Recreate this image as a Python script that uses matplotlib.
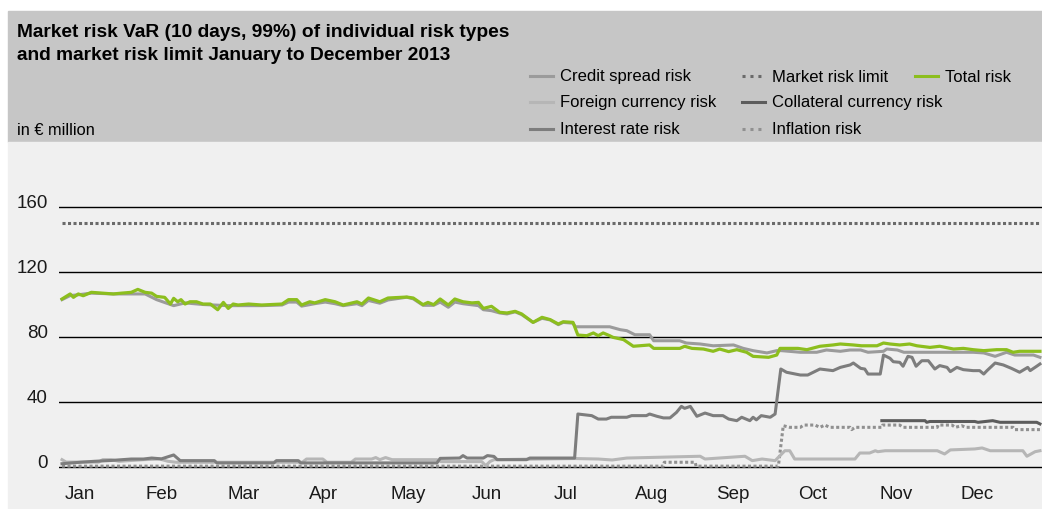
import matplotlib.pyplot as plt
import numpy as np
from matplotlib.lines import Line2D
from matplotlib.patches import Rectangle

plt.rcParams['font.family'] = ['Liberation Sans', 'DejaVu Sans']

# x positions are in months (0 = start of January, 12 = end of December)
months = ['Jan', 'Feb', 'Mar', 'Apr', 'May', 'Jun',
          'Jul', 'Aug', 'Sep', 'Oct', 'Nov', 'Dec']
y_ticks = [0, 40, 80, 120, 160]

total_t = [0.00, 0.10, 0.14, 0.20, 0.26, 0.36, 0.63, 0.73, 0.85, 0.93, 1.02, 1.10,
           1.16, 1.26, 1.33, 1.37, 1.42, 1.46, 1.51, 1.57, 1.65, 1.73, 1.82, 1.91,
           1.98, 2.04, 2.10, 2.16, 2.29, 2.45, 2.70, 2.78, 2.88, 2.94, 3.04, 3.10,
           3.23, 3.35, 3.45, 3.62, 3.68, 3.76, 3.90, 4.00, 4.23, 4.31, 4.43, 4.49,
           4.56, 4.64, 4.74, 4.82, 4.92, 5.03, 5.11, 5.17, 5.27, 5.37, 5.46, 5.56,
           5.64, 5.78, 5.89, 5.99, 6.09, 6.15, 6.27, 6.33, 6.44, 6.52, 6.58, 6.64,
           6.72, 6.76, 6.89, 7.01, 7.21, 7.26, 7.58, 7.64, 7.73, 7.87, 7.99, 8.07,
           8.18, 8.28, 8.40, 8.48, 8.67, 8.77, 8.81, 9.03, 9.14, 9.30, 9.46, 9.55,
           9.71, 9.81, 10.00, 10.08, 10.16, 10.28, 10.40, 10.49, 10.65, 10.77, 10.94,
           11.06, 11.18, 11.31, 11.47, 11.59, 11.67, 11.75, 12.00]
total_v = [103.4, 106.5, 104.4, 106.5, 105.4, 107.5, 106.5, 107.0, 107.5, 109.3, 107.5, 107.0,
           105.0, 104.4, 100.3, 103.8, 101.7, 103.0, 100.3, 101.7, 101.7, 100.3, 100.3, 96.8,
           101.3, 97.6, 100.3, 99.7, 100.3, 99.7, 100.3, 103.0, 103.0, 99.7, 101.7, 101.0,
           103.0, 101.7, 99.7, 101.7, 100.3, 104.0, 101.7, 104.0, 104.6, 104.0, 99.9, 101.3,
           99.9, 103.4, 99.7, 103.4, 101.7, 101.0, 101.3, 97.6, 98.9, 95.2, 94.8, 95.8,
           94.2, 89.0, 92.1, 90.7, 88.0, 89.4, 89.0, 81.2, 80.8, 82.5, 80.8, 82.5,
           80.8, 79.8, 78.4, 74.3, 75.1, 73.0, 73.0, 74.3, 73.0, 72.6, 71.2, 72.6,
           71.0, 72.2, 70.6, 68.1, 67.5, 68.9, 73.0, 73.0, 72.2, 74.3, 75.1, 75.7,
           75.1, 74.6, 74.6, 76.3, 75.7, 75.1, 75.7, 74.6, 73.6, 74.3, 72.6,
           73.0, 72.2, 71.6, 72.2, 72.2, 70.6, 71.2, 71.2]

credit_t = [0.00, 0.10, 0.20, 0.36, 0.63, 0.85, 1.02, 1.16, 1.33, 1.37, 1.51, 1.73,
            2.04, 2.45, 2.70, 2.78, 2.88, 2.94, 3.10, 3.23, 3.35, 3.45, 3.62, 3.68,
            3.76, 3.90, 4.00, 4.23, 4.31, 4.43, 4.56, 4.64, 4.74, 4.82, 4.92, 5.03,
            5.11, 5.17, 5.27, 5.37, 5.46, 5.56, 5.64, 5.78, 5.89, 5.99, 6.09, 6.15,
            6.27, 6.30, 6.72, 6.85, 6.93, 7.03, 7.21, 7.26, 7.58, 7.66, 7.83, 7.99,
            8.24, 8.36, 8.48, 8.65, 8.77, 8.83, 9.06, 9.26, 9.38, 9.55, 9.67, 9.80,
            9.89, 10.08, 10.12, 10.25, 10.33, 11.18, 11.31, 11.45, 11.59, 11.69, 11.92, 12.00]
credit_v = [103.0, 105.5, 106.0, 107.0, 106.5, 106.5, 106.5, 103.0, 100.0, 99.3, 101.0, 100.0,
            99.3, 99.3, 99.7, 101.5, 101.5, 99.0, 100.5, 101.5, 100.5, 99.3, 100.5, 99.3,
            102.5, 100.8, 102.8, 104.5, 103.5, 99.5, 99.5, 101.5, 98.3, 101.5, 100.5, 99.8,
            99.3, 96.8, 96.2, 94.8, 94.2, 95.5, 93.8, 89.0, 91.5, 90.5, 87.6, 89.0,
            88.5, 86.3, 86.3, 84.5, 83.9, 81.4, 81.4, 77.7, 77.7, 76.3, 75.7, 74.6,
            75.1, 73.0, 71.6, 70.2, 71.6, 71.6, 70.6, 70.6, 72.0, 71.2, 72.0, 72.0,
            70.6, 71.2, 72.6, 72.0, 70.6, 70.6, 70.2, 68.1, 70.6, 68.9, 68.9, 67.5]

interest_t = [0.00, 0.12, 0.25, 0.40, 0.60, 0.85, 1.00, 1.10, 1.22, 1.37, 1.45, 1.87,
              1.90, 2.60, 2.63, 2.90, 2.93, 4.60, 4.64, 4.88, 4.92, 4.97, 5.17, 5.22,
              5.30, 5.34, 5.70, 5.74, 6.29, 6.33, 6.50, 6.58, 6.68, 6.74, 6.93, 6.99,
              7.17, 7.21, 7.30, 7.38, 7.46, 7.54, 7.60, 7.64, 7.71, 7.79, 7.89, 7.99,
              8.11, 8.18, 8.28, 8.34, 8.44, 8.48, 8.52, 8.58, 8.69, 8.75, 8.82, 8.89,
              9.06, 9.15, 9.30, 9.46, 9.55, 9.67, 9.71, 9.80, 9.85, 9.89, 10.04, 10.08,
              10.16, 10.20, 10.28, 10.32, 10.38, 10.43, 10.48, 10.55, 10.63, 10.71, 10.77,
              10.86, 10.90, 10.98, 11.06, 11.18, 11.26, 11.31, 11.35, 11.45, 11.55, 11.65,
              11.75, 11.85, 11.88, 11.96, 12.00]
interest_v = [2.0, 2.5, 3.0, 3.5, 4.0, 4.9, 4.9, 5.5, 5.0, 7.4, 3.9, 3.9,
              2.5, 2.5, 3.9, 3.9, 2.5, 2.5, 5.3, 5.5, 7.0, 5.5, 5.5, 7.0,
              6.5, 4.5, 4.5, 5.5, 5.5, 32.6, 31.6, 29.5, 29.5, 30.6, 30.6, 31.6,
              31.6, 32.6, 31.2, 30.2, 30.2, 33.6, 37.3, 36.1, 37.3, 31.2, 33.2, 31.6,
              31.6, 29.5, 28.5, 30.6, 28.5, 30.6, 29.0, 31.6, 30.6, 32.6, 60.3, 58.3,
              56.6, 56.6, 60.3, 59.3, 61.3, 62.8, 64.0, 60.7, 60.3, 57.2, 57.2, 68.9,
              66.9, 64.8, 64.4, 62.0, 68.1, 67.5, 62.0, 65.4, 65.4, 60.3, 62.4,
              61.3, 58.7, 61.3, 59.9, 59.3, 59.3, 57.2, 59.3, 64.0, 62.8, 60.7,
              58.3, 61.3, 59.3, 62.0, 63.4]

foreign_t = [0.00, 0.05, 0.45, 0.50, 0.60, 0.70, 1.00, 1.20, 1.30, 1.40, 2.95, 3.00,
             3.20, 3.25, 3.55, 3.60, 3.80, 3.85, 3.90, 3.97, 4.05, 4.60, 4.65, 5.15,
             5.20, 5.25, 5.30, 6.29, 6.58, 6.75, 6.93, 7.83, 7.89, 8.38, 8.47, 8.59,
             8.75, 8.87, 8.93, 8.99, 9.73, 9.79, 9.91, 9.98, 10.01, 10.10, 10.74, 10.83,
             10.90, 11.20, 11.29, 11.39, 11.79, 11.84, 11.94, 12.00]
foreign_v = [4.5, 3.0, 3.0, 4.5, 4.5, 3.5, 4.5, 4.9, 3.5, 2.9, 2.9, 4.9,
             4.9, 2.9, 2.9, 4.9, 4.9, 5.8, 4.5, 5.8, 4.5, 4.5, 3.3, 3.3,
             0.8, 3.3, 4.5, 5.2, 4.9, 4.3, 5.5, 6.6, 4.9, 6.6, 3.9, 4.9,
             3.9, 10.0, 10.0, 4.9, 4.9, 8.6, 8.6, 10.0, 9.4, 10.0, 10.0, 8.0,
             10.5, 11.1, 11.7, 10.0, 10.0, 6.6, 9.4, 10.0]

collateral_t = [10.06, 10.59, 10.61, 10.65, 11.20, 11.24, 11.42, 11.51, 11.96, 12.00]
collateral_v = [28.5, 28.5, 27.5, 28.0, 28.0, 27.5, 28.5, 27.5, 27.5, 26.5]

inflation_t = [0.00, 6.52, 6.54, 6.56, 7.38, 7.39, 7.77, 7.78, 8.79, 8.85, 8.93, 9.06,
               9.10, 9.24, 9.30, 9.36, 9.42, 9.67, 9.69, 9.73, 10.06, 10.07, 10.28, 10.32,
               10.74, 10.75, 10.92, 10.96, 11.04, 11.09, 11.67, 11.69, 12.00]
inflation_v = [0.5, 0.5, 1.2, 0.5, 0.5, 2.9, 2.9, 0.5, 0.5, 25.4, 24.4, 24.4,
               25.8, 25.8, 24.4, 25.8, 24.4, 24.4, 23.0, 24.4, 24.4, 25.8, 25.8, 24.4,
               24.4, 25.8, 25.8, 24.4, 25.4, 24.4, 24.4, 23.0, 23.0]

limit_t = [0.00, 12.00]
limit_v = [150, 150]

c_total = '#8cbe1e'
c_credit = '#9b9b9b'
c_interest = '#7d7d7d'
c_foreign = '#b6b6b6'
c_collateral = '#5c5c5c'
c_limit = '#6a6a6a'
c_inflation = '#909090'
dots = (0, (1, 0.8))
legend_dots = (0, (1, 1.6))

W, H = 1042, 510
fig = plt.figure(figsize=(W / 100, H / 100), dpi=100, facecolor='white')


def fx(px):
    return px / W


def fy(py):
    return 1 - py / H


# header and plot background panels
fig.add_artist(Rectangle((fx(8), fy(143)), fx(W - 8), 131 / H,
                         transform=fig.transFigure, color='#c6c6c6', zorder=0))
fig.add_artist(Rectangle((fx(8), 0), fx(W - 8), fy(143),
                         transform=fig.transFigure, color='#f0f0f0', zorder=0))

fig.text(fx(17), fy(37), 'Market risk VaR (10 days, 99%) of individual risk types',
         fontsize=13.8, fontweight='bold', va='baseline')
fig.text(fx(17), fy(60), 'and market risk limit January to December 2013',
         fontsize=13.8, fontweight='bold', va='baseline')
fig.text(fx(17), fy(135), 'in € million', fontsize=11.8, va='baseline')

# legend drawn by hand (3 columns, filled top to bottom)
legend_items = [
    (530, 560, 77, 'Credit spread risk', c_credit, '-'),
    (530, 560, 103, 'Foreign currency risk', c_foreign, '-'),
    (530, 560, 130, 'Interest rate risk', c_interest, '-'),
    (742, 772, 77, 'Market risk limit', c_limit, legend_dots),
    (742, 772, 103, 'Collateral currency risk', c_collateral, '-'),
    (742, 772, 130, 'Inflation risk', c_inflation, legend_dots),
    (915, 945, 77, 'Total risk', c_total, '-'),
]
for x0, xt, yc, label, col, ls in legend_items:
    fig.add_artist(Line2D([fx(x0), fx(x0 + 23)], [fy(yc), fy(yc)],
                          transform=fig.transFigure, color=col, lw=2.2, linestyle=ls))
    fig.text(fx(xt), fy(yc), label, fontsize=12, va='center')

ax = fig.add_axes([fx(59), 30 / H, 983 / W, 290 / H])
ax.patch.set_alpha(0)
for s in ax.spines.values():
    s.set_visible(False)

for v in y_ticks:
    ax.axhline(v, color='black', lw=1, zorder=1)

ax.plot(limit_t, limit_v, color=c_limit, lw=2.2, linestyle=dots, zorder=2)
ax.plot(inflation_t, inflation_v, color=c_inflation, lw=2.2, linestyle=dots, zorder=2)
ax.plot(collateral_t, collateral_v, color=c_collateral, lw=2.2, zorder=3)
ax.plot(foreign_t, foreign_v, color=c_foreign, lw=2.2, zorder=3)
ax.plot(interest_t, interest_v, color=c_interest, lw=2.2, zorder=4)
ax.plot(credit_t, credit_v, color=c_credit, lw=2.2, zorder=5)
ax.plot(total_t, total_v, color=c_total, lw=2.3, zorder=6)

ax.set_xlim(-0.037, 12.025)
ax.set_ylim(-7.4, 171.1)

ax.set_yticks(y_ticks)
ax.set_yticklabels([str(v) for v in y_ticks], fontsize=13.5, color='#1a1a1a')
for lbl in ax.get_yticklabels():
    lbl.set_va('baseline')
ax.set_xticks(np.arange(12) + 0.03)
ax.set_xticklabels(months, fontsize=13.5, ha='left', color='#1a1a1a')
ax.tick_params(axis='both', length=0)
ax.tick_params(axis='y', pad=8)
ax.tick_params(axis='x', pad=4)

fig.savefig('out.png', dpi=100)
